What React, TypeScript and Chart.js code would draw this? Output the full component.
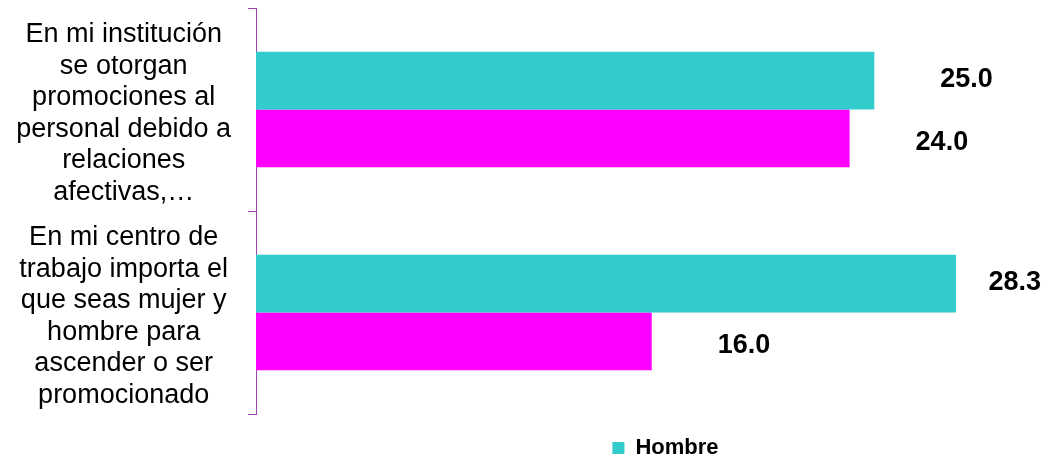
import React, { useEffect, useRef } from "react";
import { Chart, registerables } from "chart.js";

Chart.register(...registerables);

const categories: string[][] = [
  ["En mi institución", "se otorgan", "promociones al", "personal debido a", "relaciones", "afectivas,…"],
  ["En mi centro de", "trabajo importa el", "que seas mujer y", "hombre para", "ascender o ser", "promocionado"],
];
const hombre: number[] = [25.0, 28.3];
const mujer: number[] = [24.0, 16.0];
const seriesNames: string[] = ["Hombre", "Mujer"];

const FONT = "'Liberation Sans', Arial, Helvetica, sans-serif";
const AXIS_COLOR = "#A044B0";

const valueLabels = {
  id: "valueLabels",
  afterDatasetsDraw(chart: any) {
    const ctx = chart.ctx;
    ctx.save();
    ctx.font = `bold 27px ${FONT}`;
    ctx.fillStyle = "#000";
    ctx.textAlign = "left";
    ctx.textBaseline = "middle";
    chart.data.datasets.forEach((ds: any, i: number) => {
      const meta = chart.getDatasetMeta(i);
      const dy = i === 0 ? -1.5 : 4;
      meta.data.forEach((bar: any, j: number) => {
        const txt = Number(ds.data[j]).toFixed(1);
        const w = ctx.measureText(txt).width;
        const x = Math.min(bar.x + 66, chart.width - 12 - w);
        ctx.fillText(txt, x, bar.y + dy);
      });
    });
    ctx.restore();
  },
};

const layoutTweaks = {
  id: "layoutTweaks",
  afterLayout(chart: any) {
    if (chart.legend) {
      chart.legend.left += 15;
      chart.legend.right += 15;
      chart.legend.top += 13;
      chart.legend.bottom += 13;
    }
    const y = chart.scales.y;
    if (y && y.getLabelItems) {
      const items = y.getLabelItems();
      items.forEach((it: any) => {
        const t = it.options.translation;
        it.options.translation = [t[0], t[1] + 4];
      });
    }
  },
};

export default function App() {
  const ref = useRef<HTMLCanvasElement | null>(null);
  useEffect(() => {
    document.body.style.margin = "0";
    if (!ref.current) return;
    const chart = new Chart(ref.current, {
      type: "bar",
      data: {
        labels: categories as any,
        datasets: [
          {
            label: seriesNames[0],
            data: hombre,
            backgroundColor: "#33CCCC",
            categoryPercentage: 0.57,
            barPercentage: 1.0,
          },
          {
            label: seriesNames[1],
            data: mujer,
            backgroundColor: "#FF00FF",
            categoryPercentage: 0.57,
            barPercentage: 1.0,
          },
        ],
      },
      options: {
        indexAxis: "y",
        animation: false,
        responsive: true,
        maintainAspectRatio: false,
        layout: { padding: { left: 16, right: 8, top: 8, bottom: 1 } },
        scales: {
          x: {
            display: false,
            min: 0,
            max: 31.9,
          },
          y: {
            offset: true,
            afterFit: (scale: any) => {
              scale.paddingTop = 0;
              scale.paddingBottom = 0;
              scale.width = 240;
            },
            grid: {
              offset: true,
              drawOnChartArea: false,
              drawTicks: true,
              tickLength: 8,
              color: AXIS_COLOR,
            },
            border: { display: true, color: AXIS_COLOR, width: 1 },
            ticks: {
              crossAlign: "center",
              padding: 17,
              color: "#000",
              font: { family: FONT, size: 27, lineHeight: 1.17 },
            },
          },
        },
        plugins: {
          tooltip: { enabled: false },
          legend: {
            position: "bottom",
            fullSize: false,
            labels: {
              filter: (item: any) => item.datasetIndex === 0,
              boxWidth: 12,
              boxHeight: 12,
              color: "#000",
              padding: 10,
              font: { family: FONT, size: 22, weight: "bold" },
            },
          },
        },
      },
      plugins: [valueLabels, layoutTweaks],
    });
    return () => chart.destroy();
  }, []);
  return (
    <div style={{ width: 1053, height: 457, position: "relative" }}>
      <canvas ref={ref} />
    </div>
  );
}
